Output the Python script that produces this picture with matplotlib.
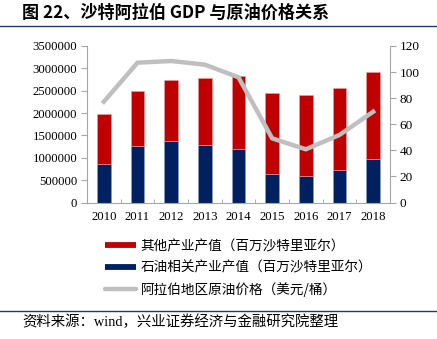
import matplotlib
matplotlib.use("Agg")
import matplotlib.pyplot as plt
from matplotlib.lines import Line2D
import numpy as np

years = ["2010", "2011", "2012", "2013", "2014", "2015", "2016", "2017", "2018"]
oil_sector = [868000, 1257000, 1369000, 1279000, 1190000, 644000, 586000, 720000, 966000]
total_gdp = [1970000, 2500000, 2740000, 2785000, 2822000, 2442000, 2410000, 2567000, 2918000]
other_sector = [t - o for t, o in zip(total_gdp, oil_sector)]
oil_price = [77.3, 107.2, 108.5, 105.7, 96.0, 49.2, 40.8, 51.8, 69.6]

label_other = "其他产业产值（百万沙特里亚尔）"
label_oil = "石油相关产业产值（百万沙特里亚尔）"
label_price = "阿拉伯地区原油价格（美元/桶）"
title = "图 22、沙特阿拉伯 GDP 与原油价格关系"
source = "资料来源：wind，兴业证券经济与金融研究院整理"

RED = "#C00000"
NAVY = "#002060"
GRAY = "#BFBFBF"
AXC = "#A6A6A6"
CJK = ["Noto Sans CJK SC", "DejaVu Sans"]
SERIF = ["Liberation Serif", "Noto Sans CJK SC"]

W, H = 437, 339
fig = plt.figure(figsize=(W / 100, H / 100), dpi=100)
ax = fig.add_axes([87 / W, (H - 202.5) / H, (390 - 87) / W, (202.5 - 46) / H])
ax2 = ax.twinx()

x = np.arange(len(years))
ax.bar(x, oil_sector, width=0.4, color=NAVY, edgecolor="#8FA0C8", linewidth=0.4, zorder=2)
ax.bar(x, other_sector, width=0.4, bottom=oil_sector, color=RED, edgecolor="#E8A0A0",
       linewidth=0.4, zorder=2)
ax2.plot(x, oil_price, color=GRAY, lw=3.2, zorder=3)

ax.set_xlim(-0.5, len(years) - 0.5)
ax.set_ylim(0, 3500000)
ax.set_yticks(np.arange(0, 3500001, 500000))
ax.set_yticklabels([str(v) for v in range(0, 3500001, 500000)], fontfamily=SERIF, fontsize=9.2)
ax2.set_ylim(0, 120)
ax2.set_yticks(np.arange(0, 121, 20))
ax2.set_yticklabels([str(v) for v in range(0, 121, 20)], fontfamily=SERIF, fontsize=9.5)
ax.set_xticks(x)
ax.set_xticklabels(years, fontfamily=SERIF, fontsize=9.2)
ax.set_xticks(np.arange(-0.5, len(years), 1), minor=True)
ax.tick_params(axis="x", which="major", length=0, pad=6)
ax.tick_params(axis="x", which="minor", length=3, direction="in", color=AXC)
ax.tick_params(axis="y", length=4, color=AXC, pad=3)
ax2.tick_params(axis="y", length=4, color=AXC, pad=3)

for a in (ax, ax2):
    a.spines["top"].set_visible(False)
    for s in ("left", "right", "bottom"):
        a.spines[s].set_color(AXC)
        a.spines[s].set_linewidth(0.8)
ax2.spines["left"].set_visible(False)
ax2.spines["bottom"].set_visible(False)
ax.spines["right"].set_visible(False)

handles = [Line2D([], [], color=RED, lw=4.2, solid_capstyle="butt"),
           Line2D([], [], color=NAVY, lw=4.2, solid_capstyle="butt"),
           Line2D([], [], color=GRAY, lw=3.2, solid_capstyle="round")]
fig.legend(handles, [label_other, label_oil, label_price], loc="upper left",
           bbox_to_anchor=(101 / W, (H - 235) / H), frameon=False,
           prop={"family": CJK, "size": 9.8}, handlelength=2.3, handletextpad=0.3,
           labelspacing=0.55, borderaxespad=0, borderpad=0.3)

fig.text(22 / W, (H - 13) / H, title, fontfamily=CJK, fontsize=12.3, fontweight="bold",
         va="center", ha="left")
fig.add_artist(Line2D([0, 1], [(H - 26) / H] * 2, color="#1F3A6E", lw=1.0,
                      transform=fig.transFigure))
fig.add_artist(Line2D([0, 1], [(H - 311) / H] * 2, color="#1F3A6E", lw=1.0,
                      transform=fig.transFigure))
fig.text(22 / W, (H - 322) / H, source, fontfamily=["Liberation Serif", "Noto Sans CJK SC"],
         fontsize=10.4, va="center", ha="left")

fig.savefig("out.png", dpi=100)
